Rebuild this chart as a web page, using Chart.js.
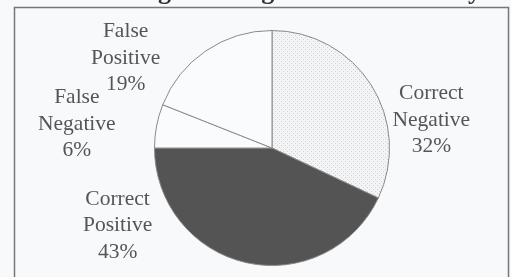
<!DOCTYPE html>
<html>
<head>
<meta charset="utf-8">
<script src="https://cdn.jsdelivr.net/npm/chart.js@4"></script>
<style>
  html, body { margin: 0; padding: 0; background: #f8f9fb; }
  #wrap { width: 511px; height: 277px; }
</style>
</head>
<body>
<div id="wrap"><canvas id="pie"></canvas></div>
<script>
// data
const categories = ['Correct Negative', 'Correct Positive', 'False Negative', 'False Positive'];
const shares = [32, 43, 6, 19];
const labelLines = [
  ['Correct', 'Negative', '32%'],
  ['Correct', 'Positive', '43%'],
  ['False', 'Negative', '6%'],
  ['False', 'Positive', '19%']
];
const titleText = 'Diagnostic Agreement Summary';

// where each label block sits, in units of the pie radius from its centre
const labelOffsets = [[1.356, -0.237], [-1.314, 0.661], [-1.661, -0.203], [-1.246, -0.763]];

function dots() {
  let c = document.createElement('canvas');
  c.width = 4; c.height = 4;
  let g = c.getContext('2d');
  g.fillStyle = '#f3f4f6';
  g.fillRect(0, 0, 4, 4);
  g.fillStyle = '#d2d3d5';
  g.fillRect(1, 1, 1, 1);
  g.fillRect(3, 3, 1, 1);
  return g.createPattern(c, 'repeat');
}

const frame = {
  id: 'frame',
  beforeDraw(chart) {
    let ctx = chart.ctx;
    ctx.save();
    ctx.fillStyle = '#f8f9fb';
    ctx.fillRect(0, 0, chart.width, chart.height);
    // title sits above the visible area, only its descenders show
    ctx.fillStyle = '#333';
    ctx.font = 'bold 26px "Liberation Serif"';
    ctx.textAlign = 'center';
    ctx.textBaseline = 'alphabetic';
    ctx.fillText(titleText, 300, -1);
    ctx.strokeStyle = '#777';
    ctx.lineWidth = 1.5;
    ctx.strokeRect(14.5, 7.5, 494, 300);
    ctx.restore();
  }
};

const sliceLabels = {
  id: 'sliceLabels',
  afterDatasetsDraw(chart) {
    let ctx = chart.ctx;
    let arc = chart.getDatasetMeta(0).data[0];
    let r = arc.outerRadius;
    ctx.save();
    ctx.fillStyle = '#555';
    ctx.font = '21.5px "Liberation Serif"';
    ctx.textAlign = 'center';
    ctx.textBaseline = 'middle';
    labelLines.forEach((lines, i) => {
      let cx = arc.x + labelOffsets[i][0] * r;
      let cy = arc.y + labelOffsets[i][1] * r;
      lines.forEach((t, j) => {
        ctx.fillText(t, cx, cy + (j - 1) * 26.5);
      });
    });
    ctx.restore();
  }
};

let ctx = document.getElementById('pie').getContext('2d');
let chart = new Chart(ctx, {
  type: 'pie',
  data: {
    labels: categories,
    datasets: [{
      data: shares,
      backgroundColor: [dots(), '#545454', '#fafbfc', '#fafbfc'],
      borderColor: '#8a8a8a',
      borderWidth: 1
    }]
  },
  options: {
    responsive: true,
    maintainAspectRatio: false,
    animation: false,
    layout: { padding: { left: 154, right: 121, top: 30, bottom: 11 } },
    plugins: {
      legend: { display: false },
      tooltip: { enabled: false }
    }
  },
  plugins: [frame, sliceLabels]
});
</script>
</body>
</html>
